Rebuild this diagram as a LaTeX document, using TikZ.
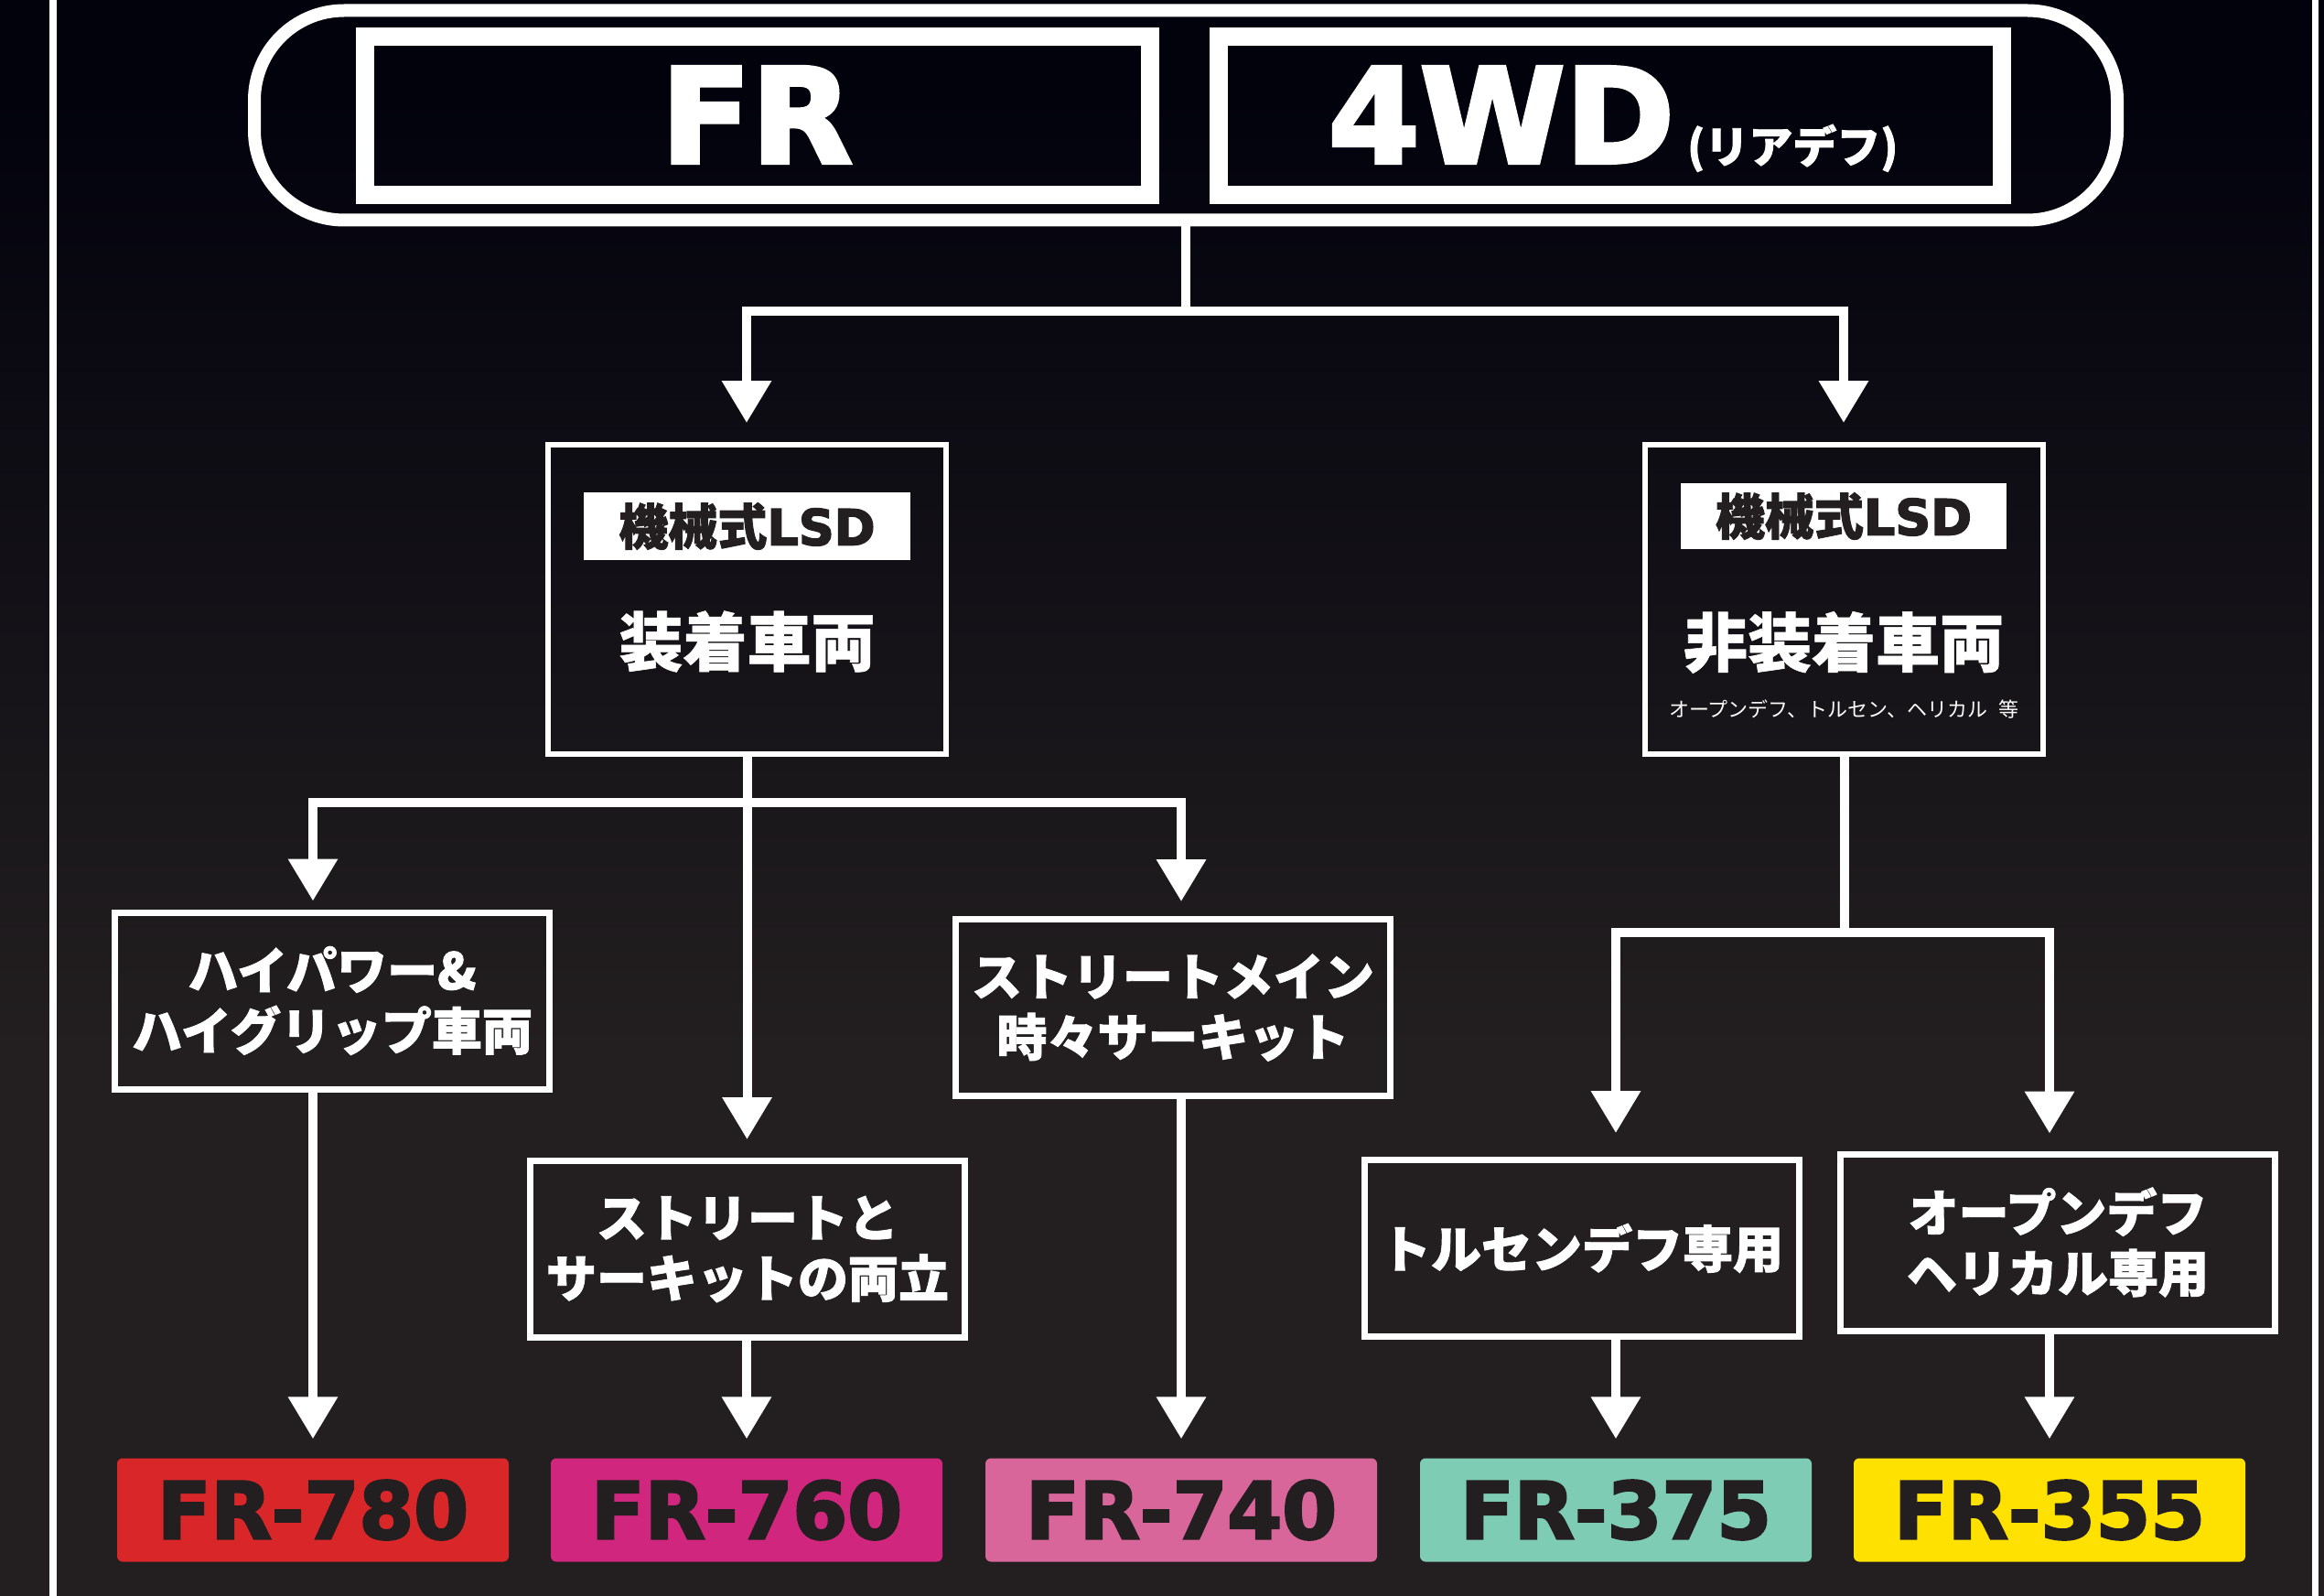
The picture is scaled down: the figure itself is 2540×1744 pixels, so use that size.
\documentclass[tikz,border=0pt]{standalone}
\usepackage{fontspec}
\newfontfamily\jp{Noto Sans CJK JP}
\newfontfamily\jpb{Noto Sans CJK JP}[FakeBold=1.6]
\newfontfamily\jpk{Noto Sans CJK JP}[FakeBold=0.8]
\newfontfamily\dv{DejaVu Sans}
\newfontfamily\dvb{DejaVu Sans}[FakeBold=3]
\usetikzlibrary{arrows.meta}
\definecolor{bgtop}{RGB}{2,2,13}
\definecolor{bgbot}{RGB}{35,31,32}
\definecolor{ink}{RGB}{35,31,32}
\definecolor{c780}{RGB}{217,38,40}
\definecolor{c760}{RGB}{209,38,126}
\definecolor{c740}{RGB}{217,102,155}
\definecolor{c375}{RGB}{127,204,180}
\definecolor{c355}{RGB}{255,225,0}
\pgfdeclareverticalshading{bgsh}{100bp}{color(0bp)=(bgbot); color(42bp)=(bgbot); color(72bp)=(bgtop); color(100bp)=(bgtop)}
\tikzset{
  choice/.style={draw=white, line width=7pt, minimum width=475pt, minimum height=193pt,
    inner sep=0pt, text=white, align=center, font=\jpb\bfseries\fontsize{55}{66}\selectfont},
  branch/.style={draw=white, line width=6pt, minimum width=435pt, minimum height=338pt, inner sep=0pt},
  tag/.style={fill=white, inner sep=0pt, text=ink, font=\fontsize{54}{54}\selectfont},
  prod/.style={rounded corners=6pt, minimum width=428pt, minimum height=113pt, inner sep=0pt,
    text=ink, font=\dvb\bfseries\fontsize{86}{86}\selectfont},
  drive/.style={draw=white, line width=20pt, inner sep=0pt},
  link/.style={draw=white, line width=10pt},
  arr/.style={link, -{Triangle[width=52pt,length=46pt]}}
}
\begin{document}
\begin{tikzpicture}[x=1pt,y=-1pt]
\useasboundingbox (0,0) rectangle (2540,1744);
\shade[shading=bgsh] (0,0) rectangle (2540,1744);
% side rules
\draw[white, line width=8pt] (58,0) -- (58,1744);
\draw[white, line width=7pt] (2530,0) -- (2530,1744);
% top
\node[draw=white, line width=14pt, rounded corners=98pt, minimum width=2036pt, minimum height=229pt, inner sep=0pt] (top) at (1296,126) {};
\node[drive, minimum width=858pt, minimum height=173pt] (fr) at (828,126.5) {};
\node[drive, minimum width=856pt, minimum height=173pt] (wd) at (1760,126.5) {};
\node[anchor=base, text=white, inner sep=0pt, font=\dvb\bfseries\fontsize{144}{144}\selectfont] (frt) at (827,178) {FR};
\node[anchor=base, text=white, inner sep=0pt, font=\dvb\bfseries\fontsize{144}{144}\selectfont] (wdt) at (1763,178) {4WD\hspace{14pt}{\jpb\bfseries\fontsize{48}{48}\selectfont (リアデフ)}};
% LSD branches
\node[branch] (L) at (816.5,655) {};
\node[tag, minimum width=357pt, minimum height=74pt] (Ltag) at (816.5,575) {{\jpb\bfseries 機械式}{\dvb\bfseries LSD}};
\node[text=white, inner sep=0pt, font=\jpk\bfseries\fontsize{70}{70}\selectfont] (Ltxt) at (816.5,701) {装着車両};
\node[branch] (R) at (2015.5,655) {};
\node[tag, minimum width=356pt, minimum height=72pt] (Rtag) at (2015,564) {{\jpb\bfseries 機械式}{\dvb\bfseries LSD}};
\node[text=white, inner sep=0pt, font=\jpk\bfseries\fontsize{70}{70}\selectfont] (Rtxt) at (2015,702) {非装着車両};
\node[text=white, inner sep=0pt, font=\jp\fontsize{22}{22}\selectfont] (Rsub) at (2015,775) {オープンデフ、トルセン、ヘリカル\hspace{0.3em} 等};
% choices
\node[choice] (B1) at (363,1093.5) {ハイパワー\&\\ハイグリップ車両};
\node[choice] (B2) at (817,1365) {ストリートと\\サーキットの両立};
\node[choice] (B3) at (1282,1101) {ストリートメイン\\時々サーキット};
\node[choice] (B4) at (1729,1364) {トルセンデフ専用};
\node[choice] (B5) at (2249,1357.5) {オープンデフ\\ヘリカル専用};
% products
\node[prod, fill=c780] (P1) at (342,1650) {FR-780};
\node[prod, fill=c760] (P2) at (816,1650) {FR-760};
\node[prod, fill=c740] (P3) at (1291,1650) {FR-740};
\node[prod, fill=c375] (P4) at (1766,1650) {FR-375};
\node[prod, fill=c355] (P5) at (2240,1650) {FR-355};
% connectors top
\coordinate (jL) at (816,340);
\coordinate (jR) at (2015,340);
\coordinate (j0) at (top.south |- jL);
\draw[link] (top.south) -- (j0);
\draw[arr, shorten >=21pt] (j0) -- (jL) -- (jL |- L.north);
\draw[arr, shorten >=21pt] (j0) -- (jR) -- (jR |- R.north);
% connectors left
\coordinate (k1) at (342,877);
\coordinate (k3) at (1291,877);
\coordinate (k0) at (L.south |- k1);
\draw[arr, shorten >=20pt] (L.south) -- (L.south |- B2.north);
\draw[arr, shorten >=9pt] (k0) -- (k1) -- (k1 |- B1.north);
\draw[arr, shorten >=16pt] (k0) -- (k3) -- (k3 |- B3.north);
% connectors right
\coordinate (r4) at (1766,1019);
\coordinate (r5) at (2240,1019);
\coordinate (r0) at (R.south |- r4);
\draw[link] (R.south) -- (r0);
\draw[arr, shorten >=26pt] (r0) -- (r4) -- (r4 |- B4.north);
\draw[arr, shorten >=19pt] (r0) -- (r5) -- (r5 |- B5.north);
% connectors bottom
\draw[arr, shorten >=21pt] (B1.south -| P1.north) -- (P1.north);
\draw[arr, shorten >=21pt] (B2.south -| P2.north) -- (P2.north);
\draw[arr, shorten >=21pt] (B3.south -| P3.north) -- (P3.north);
\draw[arr, shorten >=21pt] (B4.south -| P4.north) -- (P4.north);
\draw[arr, shorten >=21pt] (B5.south -| P5.north) -- (P5.north);
\end{tikzpicture}
\end{document}
